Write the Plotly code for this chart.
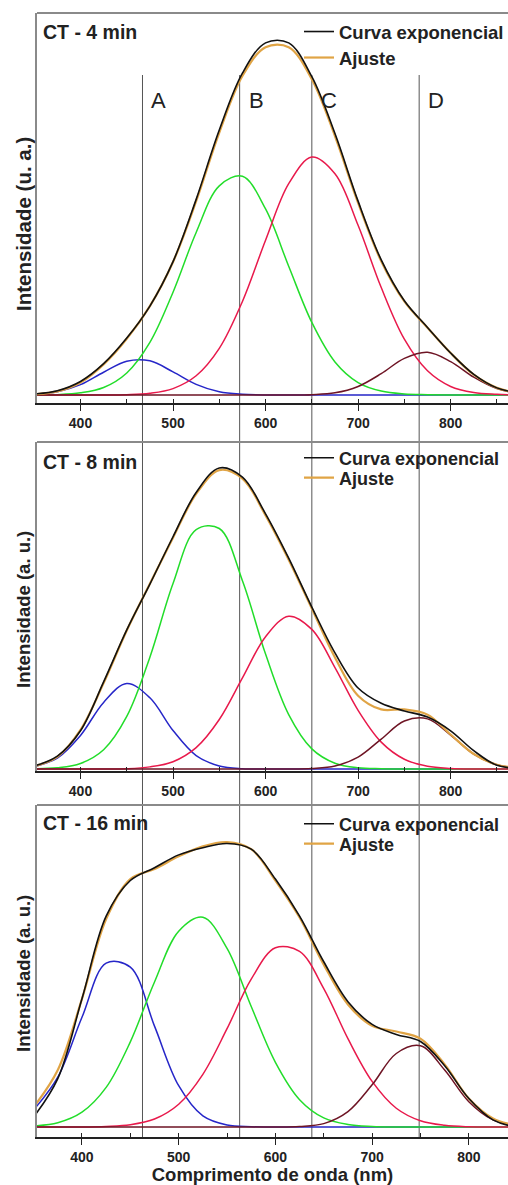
import plotly.graph_objects as go

# ---------------- data ----------------
wl = [350, 375, 400, 425, 450, 475, 500, 525, 550, 575, 600,
      625, 650, 675, 700, 725, 750, 775, 800, 825, 850, 875]

# CT - 4 min
blue_4 = [0.002, 0.009, 0.029, 0.064, 0.095, 0.096, 0.065, 0.030, 0.009, 0.002, 0.000,
          0, 0, 0, 0, 0, 0, 0, 0, 0, 0, 0]
green_4 = [0.000, 0.001, 0.006, 0.021, 0.062, 0.148, 0.289, 0.457, 0.588, 0.615, 0.523,
           0.362, 0.204, 0.093, 0.035, 0.011, 0.003, 0.001, 0, 0, 0, 0]
red_4 = [0, 0, 0, 0.000, 0.001, 0.005, 0.018, 0.054, 0.131, 0.263, 0.435,
         0.594, 0.669, 0.622, 0.477, 0.302, 0.157, 0.068, 0.024, 0.007, 0.002, 0.000]
maroon_4 = [0, 0, 0, 0, 0, 0, 0, 0, 0, 0, 0,
            0.000, 0.001, 0.006, 0.024, 0.060, 0.103, 0.120, 0.094, 0.050, 0.018, 0.004]
curva_4 = [0.003, 0.012, 0.038, 0.088, 0.160, 0.250, 0.375, 0.550, 0.745, 0.905, 0.990,
           0.990, 0.895, 0.735, 0.545, 0.380, 0.265, 0.190, 0.118, 0.058, 0.020, 0.005]
ajuste_4 = [0.002, 0.010, 0.035, 0.086, 0.158, 0.250, 0.374, 0.545, 0.738, 0.897, 0.978,
            0.978, 0.888, 0.728, 0.540, 0.376, 0.263, 0.189, 0.118, 0.057, 0.020, 0.004]

# CT - 8 min
blue_8 = [0.008, 0.036, 0.110, 0.218, 0.280, 0.233, 0.126, 0.044, 0.010, 0.001, 0,
          0, 0, 0, 0, 0, 0, 0, 0, 0, 0, 0]
green_8 = [0.001, 0.004, 0.018, 0.063, 0.172, 0.366, 0.607, 0.783, 0.787, 0.616, 0.376,
           0.178, 0.066, 0.019, 0.004, 0.001, 0, 0, 0, 0, 0, 0]
red_8 = [0, 0, 0, 0.000, 0.001, 0.007, 0.024, 0.070, 0.162, 0.298, 0.433,
         0.500, 0.457, 0.332, 0.192, 0.088, 0.032, 0.009, 0.002, 0, 0, 0]
maroon_8 = [0, 0, 0, 0, 0, 0, 0, 0, 0, 0, 0,
            0.000, 0.002, 0.010, 0.039, 0.098, 0.157, 0.164, 0.111, 0.049, 0.014, 0.003]
curva_8 = [0.010, 0.042, 0.125, 0.285, 0.455, 0.605, 0.760, 0.905, 0.985, 0.955, 0.835,
           0.690, 0.530, 0.380, 0.265, 0.215, 0.190, 0.170, 0.125, 0.060, 0.012, 0.002]
ajuste_8 = [0.009, 0.040, 0.128, 0.281, 0.453, 0.606, 0.757, 0.900, 0.978, 0.950, 0.830,
            0.685, 0.525, 0.365, 0.240, 0.195, 0.195, 0.178, 0.113, 0.049, 0.014, 0.003]

# CT - 16 min
blue_16 = [0.060, 0.175, 0.385, 0.575, 0.561, 0.354, 0.145, 0.039, 0.007, 0.001, 0,
           0, 0, 0, 0, 0, 0, 0, 0, 0, 0, 0]
green_16 = [0.004, 0.015, 0.052, 0.139, 0.299, 0.509, 0.687, 0.736, 0.627, 0.423, 0.227,
            0.096, 0.032, 0.009, 0.002, 0, 0, 0, 0, 0, 0, 0]
red_16 = [0, 0, 0.000, 0.002, 0.008, 0.028, 0.080, 0.185, 0.345, 0.519, 0.629,
          0.616, 0.486, 0.310, 0.160, 0.066, 0.022, 0.006, 0.001, 0, 0, 0]
maroon_16 = [0, 0, 0, 0, 0, 0, 0, 0, 0, 0, 0.000,
             0.002, 0.012, 0.054, 0.148, 0.258, 0.285, 0.200, 0.089, 0.025, 0.004, 0.000]
curva_16 = [0.035, 0.170, 0.450, 0.740, 0.865, 0.910, 0.955, 0.980, 0.995, 0.975, 0.870,
            0.740, 0.580, 0.440, 0.360, 0.325, 0.300, 0.215, 0.100, 0.025, 0.000, 0.000]
ajuste_16 = [0.070, 0.200, 0.450, 0.730, 0.870, 0.905, 0.950, 0.985, 1.000, 0.975, 0.865,
             0.735, 0.570, 0.430, 0.355, 0.335, 0.310, 0.220, 0.100, 0.030, 0.005, 0.000]

panel_titles = ["CT - 4 min", "CT - 8 min", "CT - 16 min"]
y_titles = ["Intensidade (u. a.)", "Intensidade (a. u.)", "Intensidade (a. u.)"]
series_names = ["Curva exponencial", "Ajuste"]
x_title = "Comprimento de onda (nm)"
band_nm = [467, 572, 650, 766]          # vertical reference lines (panel-1 scale)
band_labels = ["A", "B", "C", "D"]

# ---------------- styling / layout ----------------
FONT = "Liberation Sans, Arial, sans-serif"
C_BLUE, C_GREEN, C_RED, C_MAROON = "#2626c8", "#22dd2a", "#e8194b", "#6e1424"
C_BLACK, C_ORANGE = "#111111", "#e0a445"

W, H = 508, 1185
ML, MT, MB = 37, 13, 48
PH = H - MT - MB


def py(pix):
    return (1137 - pix) / PH


def px(pix):
    return (pix - ML) / (W - ML)


domains = [[py(403), py(13)], [py(771), py(442)], [py(1137), py(805)]]
x_ranges = [[353, 862], [353, 862], [353.5, 840.5]]
y_ranges = [[-0.0225, 1.074], [-0.0065, 1.070], [-0.035, 1.130]]
title_y = [32, 462, 823]
ytitle_y = [224, 610, 974]
ytitle_size = [20.5, 18.5, 18.5]
legend_rows = [(32, 58), (458, 478), (824, 844)]   # centre of each legend row (px)
legend_size = [18.5, 18, 18]

data = [
    (blue_4, green_4, red_4, maroon_4, curva_4, ajuste_4),
    (blue_8, green_8, red_8, maroon_8, curva_8, ajuste_8),
    (blue_16, green_16, red_16, maroon_16, curva_16, ajuste_16),
]

fig = go.Figure()
annotations = []
shapes = []
layout = {}


def legend_id(k):
    return "legend" if k == 1 else "legend" + str(k)


for i, (b, g, r, m, cur, aju) in enumerate(data):
    n = "" if i == 0 else str(i + 1)
    xa, ya = "x" + n, "y" + n
    leg_c, leg_a = legend_id(2 * i + 1), legend_id(2 * i + 2)
    for vals, col in [(b, C_BLUE), (g, C_GREEN), (r, C_RED), (m, C_MAROON)]:
        fig.add_trace(go.Scatter(x=wl, y=vals, mode="lines", xaxis=xa, yaxis=ya,
                                 line=dict(color=col, width=1.5, shape="spline"),
                                 showlegend=False, hoverinfo="skip"))
    fig.add_trace(go.Scatter(x=wl, y=aju, mode="lines", name=series_names[1],
                             xaxis=xa, yaxis=ya, legend=leg_a,
                             line=dict(color=C_ORANGE, width=2.2, shape="spline")))
    fig.add_trace(go.Scatter(x=wl, y=cur, mode="lines", name=series_names[0],
                             xaxis=xa, yaxis=ya, legend=leg_c,
                             line=dict(color=C_BLACK, width=1.6, shape="spline")))

    layout["xaxis" + n] = dict(
        domain=[0, 1], range=x_ranges[i], anchor=ya,
        showline=True, linecolor="#222", linewidth=1.6,
        tickmode="linear", tick0=0, dtick=100,
        ticks="outside", ticklen=6, tickwidth=1.4, tickcolor="#222",
        minor=dict(dtick=50, ticks="inside", ticklen=4, tickwidth=1.2, tickcolor="#222"),
        showgrid=False, zeroline=False,
        tickfont=dict(family=FONT, size=14, color="#222", weight="bold"),
    )
    layout["yaxis" + n] = dict(
        domain=domains[i], range=y_ranges[i], anchor=xa,
        showline=True, linecolor="#8a8a8a", linewidth=1.8,
        showticklabels=False, ticks="", showgrid=False, zeroline=False,
    )
    shapes.append(dict(type="line", xref=xa + " domain", yref=ya + " domain",
                       x0=0, x1=1, y0=1, y1=1, line=dict(color="#8a8a8a", width=1.8)))
    annotations.append(dict(text=panel_titles[i], xref="paper", yref="paper",
                            x=px(41), y=py(title_y[i]), xanchor="left", yanchor="middle",
                            showarrow=False,
                            font=dict(family=FONT, size=19.5, color="#222", weight="bold")))
    annotations.append(dict(text=y_titles[i], xref="paper", yref="paper",
                            x=px(23), y=py(ytitle_y[i]), xanchor="center", yanchor="middle",
                            textangle=-90, showarrow=False,
                            font=dict(family=FONT, size=ytitle_size[i], color="#222",
                                      weight="bold")))
    for leg, row in zip((leg_c, leg_a), legend_rows[i]):
        layout[leg] = dict(x=px(299), y=py(row), xanchor="left", yanchor="middle",
                           bgcolor="rgba(0,0,0,0)", borderwidth=0, itemwidth=30,
                           font=dict(family=FONT, size=legend_size[i], color="#222",
                                     weight="bold"))

layout["xaxis3"]["title"] = dict(text=x_title, standoff=4,
                                 font=dict(family=FONT, size=18.5, color="#222",
                                           weight="bold"))

for v, lab in zip(band_nm, band_labels):
    shapes.append(dict(type="line", xref="x", yref="paper", x0=v, x1=v,
                       y0=0, y1=py(75), layer="below",
                       line=dict(color="#555555", width=1)))
    annotations.append(dict(text=lab, xref="x", yref="paper", x=v, y=py(101),
                            xanchor="left", yanchor="middle", xshift=7, showarrow=False,
                            font=dict(family=FONT, size=22, color="#222")))

fig.update_layout(
    width=W, height=H,
    margin=dict(l=ML, r=0, t=MT, b=MB, autoexpand=False),
    paper_bgcolor="white", plot_bgcolor="rgba(0,0,0,0)",
    shapes=shapes, annotations=annotations,
    **layout,
)

fig.write_html("out.html")
